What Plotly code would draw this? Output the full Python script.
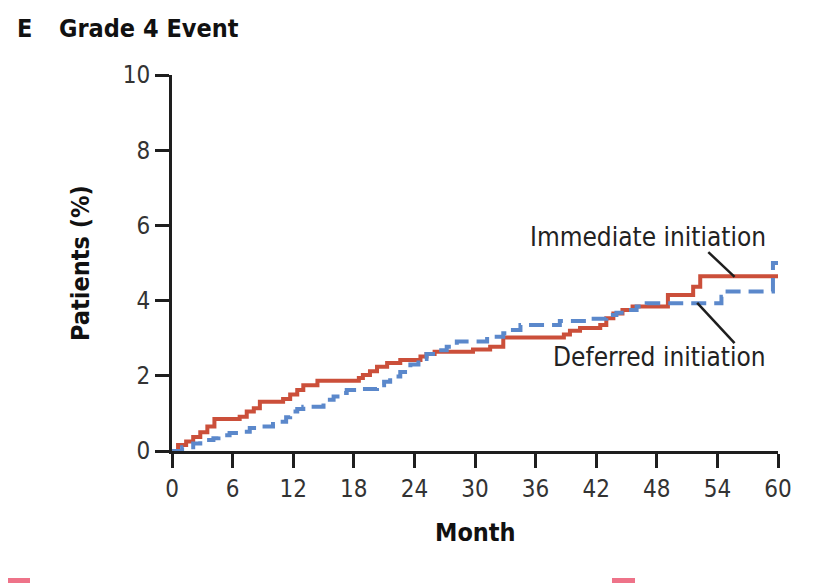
import plotly.graph_objects as go

# Cumulative incidence of grade 4 events (%), step changes by month
months_immediate = [0, 0.6, 1.4, 2.1, 2.8, 3.5, 4.2, 6.7, 7.4, 8.1, 8.7, 11.0, 11.7, 12.4,
                    13.0, 14.4, 18.5, 18.9, 19.6, 20.3, 21.3, 22.6, 24.6, 25.2, 26.0, 29.8,
                    31.5, 32.8, 38.8, 39.4, 40.4, 42.4, 43.0, 43.7, 44.6, 45.6, 49.1, 51.6,
                    52.3, 60]
pct_immediate = [0, 0.16, 0.25, 0.37, 0.5, 0.65, 0.85, 0.91, 1.05, 1.14, 1.31, 1.38, 1.5, 1.62,
                 1.75, 1.87, 1.94, 2.02, 2.12, 2.24, 2.34, 2.42, 2.51, 2.58, 2.64, 2.70,
                 2.77, 3.02, 3.10, 3.20, 3.27, 3.35, 3.53, 3.66, 3.75, 3.84, 4.15, 4.37,
                 4.65, 4.65]

months_deferred = [0, 1.0, 2.1, 2.8, 4.1, 4.6, 5.7, 6.7, 7.7, 8.7, 10.0, 10.7, 11.3, 11.7,
                   12.4, 13.0, 15.0, 16.0, 16.6, 17.3, 18.6, 20.3, 21.0, 21.6, 22.6, 23.6,
                   24.4, 25.2, 26.2, 27.2, 28.2, 31.2, 32.8, 33.5, 34.5, 38.4, 41.0, 43.0,
                   44.0, 45.0, 46.0, 47.0, 54.4, 54.8, 59.5, 60]
pct_deferred = [0, 0.1, 0.2, 0.29, 0.34, 0.42, 0.48, 0.51, 0.61, 0.65, 0.72, 0.78, 0.9, 1.05,
                1.12, 1.18, 1.36, 1.45, 1.54, 1.62, 1.65, 1.75, 1.84, 1.98, 2.10, 2.30,
                2.45, 2.58, 2.68, 2.77, 2.91, 3.04, 3.13, 3.22, 3.35, 3.46, 3.52, 3.62,
                3.68, 3.75, 3.84, 3.93, 4.10, 4.24, 5.0, 5.0]

x_ticks = [0, 6, 12, 18, 24, 30, 36, 42, 48, 54, 60]
y_ticks = [0, 2, 4, 6, 8, 10]

RED = "#cb4f3a"
BLUE = "#5b88cb"
INK = "#1e1e1e"
FONT = "Liberation Sans Narrow, DejaVu Sans Condensed, Arial Narrow, sans-serif"

fig = go.Figure()
fig.add_trace(go.Scatter(
    x=months_immediate, y=pct_immediate, mode="lines", name="Immediate initiation",
    line=dict(shape="hv", color=RED, width=4), cliponaxis=False, showlegend=False))
fig.add_trace(go.Scatter(
    x=months_deferred, y=pct_deferred, mode="lines", name="Deferred initiation",
    line=dict(shape="hv", color=BLUE, width=4, dash="15px,8px"), cliponaxis=False,
    showlegend=False))

axis_common = dict(
    showline=True, linecolor=INK, linewidth=3, ticks="outside", ticklen=14,
    tickwidth=3, tickcolor=INK, showgrid=False, zeroline=False,
    tickfont=dict(family=FONT, size=24, color="#333333"), fixedrange=True)

fig.update_xaxes(range=[0, 60], tickvals=x_ticks, ticktext=[str(v) for v in x_ticks],
                 ticklabelstandoff=0, **axis_common)
fig.update_yaxes(range=[0, 10], tickvals=y_ticks, ticktext=[str(v) for v in y_ticks],
                 **axis_common)

# Leader lines from series labels to curves
fig.add_shape(type="line", xref="x", yref="y", x0=53.1, y0=5.29, x1=55.7, y1=4.63,
              line=dict(color=INK, width=2.5))
fig.add_shape(type="line", xref="x", yref="y", x0=52.0, y0=3.94, x1=55.7, y1=2.87,
              line=dict(color=INK, width=2.5))

annotations = [
    dict(text="Immediate initiation", x=47.1, y=5.69, xref="x", yref="y",
         showarrow=False, font=dict(family=FONT, size=26, color="#222222")),
    dict(text="Deferred initiation", x=48.3, y=2.5, xref="x", yref="y",
         showarrow=False, font=dict(family=FONT, size=26, color="#222222")),
    dict(text="<b>Patients (%)</b>", x=80, y=263, xref="paper", yref="paper",
         xanchor="center", yanchor="middle",
         showarrow=False, textangle=-90, font=dict(family=FONT, size=25, color="#111111")),
    dict(text="<b>Month</b>", x=475, y=532, xref="paper", yref="paper",
         xanchor="center", yanchor="middle",
         showarrow=False, font=dict(family=FONT, size=25, color="#111111")),
    dict(text="<b>E</b>", x=15, y=28, xref="paper", yref="paper", xanchor="left",
         yanchor="middle",
         showarrow=False, font=dict(family=FONT, size=25, color="#111111")),
    dict(text="<b>Grade 4 Event</b>", x=57, y=28, xref="paper", yref="paper",
         xanchor="left", yanchor="middle", showarrow=False,
         font=dict(family=FONT, size=25, color="#111111")),
]

# Convert pixel-placed paper annotations into paper fractions
L, R, T, B, W, H = 172, 42, 75, 132, 820, 583
pw, ph = W - L - R, H - T - B
for a in annotations:
    if a["xref"] == "paper":
        a["x"] = (a["x"] - L) / pw
        a["y"] = (H - B - a["y"]) / ph

# Pink fragments along the bottom edge
for x0, x1 in [(8, 30), (612, 635)]:
    fig.add_shape(type="rect", xref="paper", yref="paper",
                  x0=(x0 - L) / pw, x1=(x1 - L) / pw,
                  y0=(H - B - 583) / ph, y1=(H - B - 578) / ph,
                  line=dict(width=0), fillcolor="#ee7389")

fig.update_layout(
    width=W, height=H, margin=dict(l=L, r=R, t=T, b=B, autoexpand=False),
    paper_bgcolor="white", plot_bgcolor="white", annotations=annotations,
    font=dict(family=FONT))

fig.write_html("out.html")
